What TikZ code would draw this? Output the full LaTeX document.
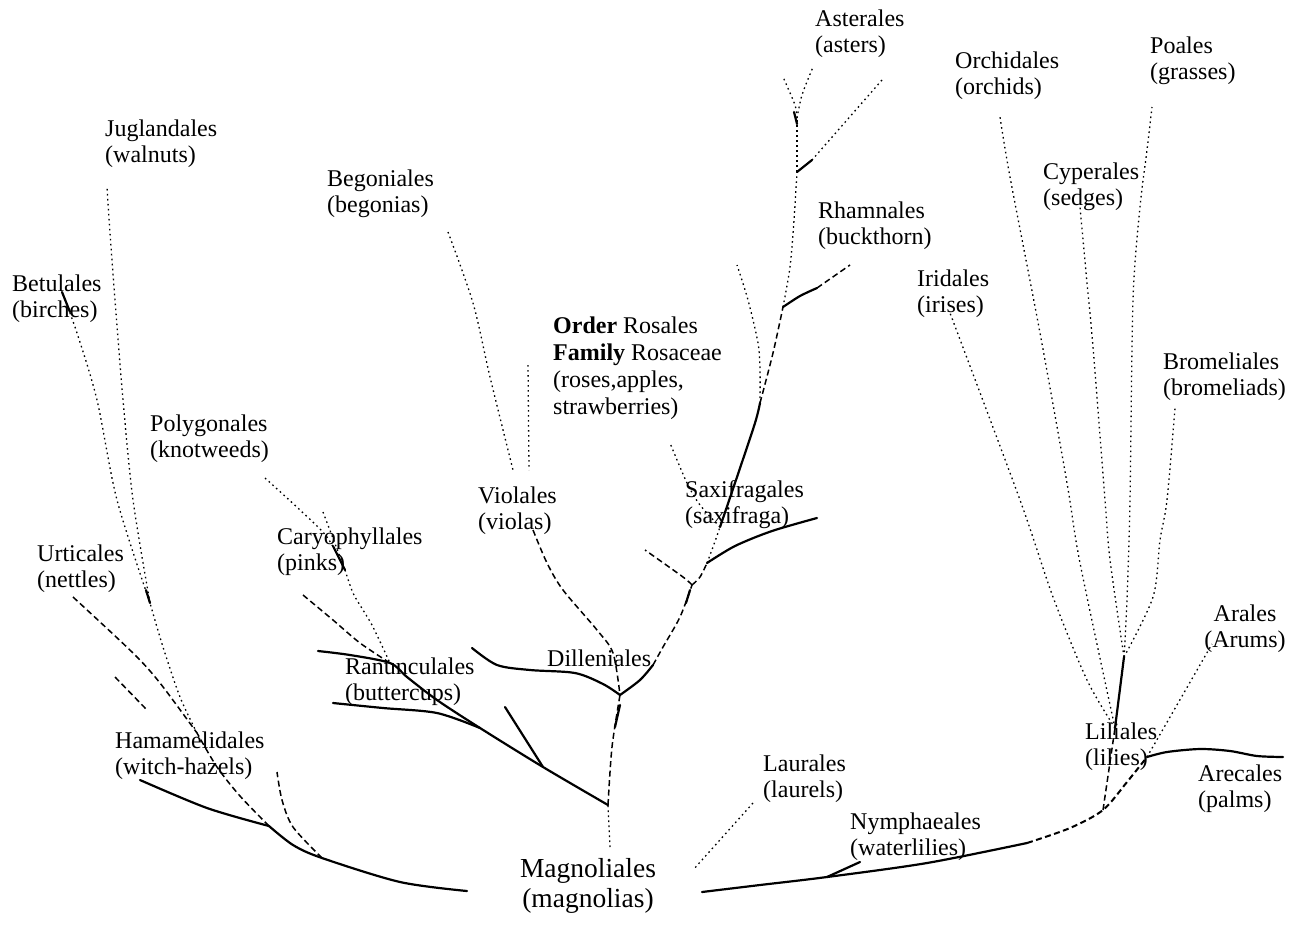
\documentclass[tikz,border=0pt]{standalone}
\usepackage{fontspec}
\setmainfont{Liberation Serif}
\begin{document}
\begin{tikzpicture}[x=1pt,y=-1pt,
  solidbr/.style={line width=2.2pt, line cap=round, line join=round},
  dashbr/.style={line width=1.5pt, dash pattern=on 6pt off 3.5pt},
  dotbr/.style={line width=1.3pt, dash pattern=on 1.6pt off 3.4pt},
  lbl/.style={font=\fontsize{24}{26}\selectfont, inner sep=0pt, align=left, anchor=north west}]
\useasboundingbox (0,0) rectangle (1300,930);

% ---------- labels ----------
\node[lbl] (jug) at (105,120) {Juglandales\\(walnuts)};
\node[lbl] (bet) at (12,275) {Betulales\\(birches)};
\node[lbl] (urt) at (37,545) {Urticales\\(nettles)};
\node[lbl] (ham) at (115,732) {Hamamelidales\\(witch-hazels)};
\node[lbl] (pol) at (150,415) {Polygonales\\(knotweeds)};
\node[lbl] (cary) at (277,528) {Caryophyllales\\(pinks)};
\node[lbl] (beg) at (327,170) {Begoniales\\(begonias)};
\node[lbl] (vio) at (478,487) {Violales\\(violas)};
\node[lbl] (ran) at (345,658) {Ranunculales\\(buttercups)};
\node[lbl] (dil) at (547,650) {Dilleniales};
\node[lbl, font=\fontsize{24}{27}\selectfont] (ros) at (553,317) {\textbf{Order} Rosales\\\textbf{Family} Rosaceae\\(roses,apples,\\strawberries)};
\node[lbl] (sax) at (685,480) {Saxifragales\\(saxifraga)};
\node[lbl] (ast) at (815,10) {Asterales\\(asters)};
\node[lbl] (rha) at (818,202) {Rhamnales\\(buckthorn)};
\node[lbl] (orc) at (955,52) {Orchidales\\(orchids)};
\node[lbl] (poa) at (1150,37) {Poales\\(grasses)};
\node[lbl] (cyp) at (1043,163) {Cyperales\\(sedges)};
\node[lbl] (iri) at (917,270) {Iridales\\(irises)};
\node[lbl] (bro) at (1163,353) {Bromeliales\\(bromeliads)};
\node[lbl, align=center, anchor=north] (ara) at (1245,605) {Arales\\(Arums)};
\node[lbl] (lil) at (1085,723) {Liliales\\(lilies)};
\node[lbl] (are) at (1198,765) {Arecales\\(palms)};
\node[lbl] (lau) at (763,755) {Laurales\\(laurels)};
\node[lbl] (nym) at (850,813) {Nymphaeales\\(waterlilies)};
\node[lbl, font=\fontsize{27.5}{30}\selectfont, align=center, anchor=north] (mag) at (588,858) {Magnoliales\\(magnolias)};

% ---------- junctions and free ends ----------
\coordinate (lA) at (467,891);
\coordinate (J1) at (322,858);
\coordinate (J2) at (269,826);
\coordinate (hamE) at (140,780);
\coordinate (e1) at (277,772);
\coordinate (J4) at (197,733);
\coordinate (J3) at (150,603);
\coordinate (jugE) at (107,187);
\coordinate (betE) at (62,292);
\coordinate (urtE) at (73,597);
\coordinate (stubA) at (115,677);
\coordinate (stubB) at (147,710);

\coordinate (T0) at (610,847);
\coordinate (T1) at (608,805);
\coordinate (T2) at (620,695);
\coordinate (R1) at (543,767);
\coordinate (R2) at (480,728);
\coordinate (R3) at (390,663);
\coordinate (ranTopE) at (318,651);
\coordinate (ranBotE) at (333,703);
\coordinate (strokeE) at (505,707);
\coordinate (dashE) at (303,595);
\coordinate (C1) at (345,570);
\coordinate (polE) at (265,478);
\coordinate (caryE) at (323,512);
\coordinate (begE) at (448,232);
\coordinate (begF) at (513,470);
\coordinate (vioT) at (528,365);
\coordinate (vioB) at (529,470);
\coordinate (vioE) at (533,530);
\coordinate (dilE) at (472,648);
\coordinate (T2b) at (653,665);
\coordinate (T3) at (692,585);
\coordinate (vE) at (645,550);
\coordinate (T4) at (707,563);
\coordinate (saxE) at (817,518);
\coordinate (T5) at (720,527);
\coordinate (rosE) at (670,443);
\coordinate (T6) at (760,403);
\coordinate (leftE) at (737,265);
\coordinate (T7) at (783,307);
\coordinate (T7b) at (817,288);
\coordinate (rhaE) at (850,265);
\coordinate (T8) at (797,172);
\coordinate (T8b) at (812,160);
\coordinate (rbE) at (882,80);
\coordinate (T9) at (797,118);
\coordinate (astL) at (783,77);
\coordinate (astR) at (813,67);

\coordinate (rA) at (702,892);
\coordinate (N1) at (827,877);
\coordinate (nymE) at (860,862);
\coordinate (R4) at (1027,843);
\coordinate (L0) at (1103,810);
\coordinate (L1) at (1147,757);
\coordinate (areE) at (1283,757);
\coordinate (araE) at (1212,644);
\coordinate (lauA) at (753,803);
\coordinate (lauB) at (693,870);
\coordinate (L3) at (1115,728);
\coordinate (L2) at (1124,657);
\coordinate (poaE) at (1152,107);
\coordinate (cypE) at (1080,207);
\coordinate (broE) at (1175,408);
\coordinate (orcE) at (1000,117);
\coordinate (iriE) at (950,313);

% ---------- left group ----------
\draw[solidbr] plot[smooth] coordinates {(lA) (400,882) (J1) (293,845) (J2)};
\draw[solidbr] plot[smooth] coordinates {(J2) (207,808) (hamE)};
\draw[dashbr] plot[smooth] coordinates {(J1) (293,827) (282,800) (e1)};
\draw[dashbr] plot[smooth] coordinates {(J2) (240,796) (217,767) (J4)};
\draw[dotbr] plot[smooth] coordinates {(J4) (180,697) (163,647) (J3)};
\draw[dotbr] plot[smooth] coordinates {(J3) (133,500) (123,400) (115,300) (110,233) (jugE)};
\draw[dotbr] plot[smooth] coordinates {(J3) (117,500) (97,400) (77,333) (betE)};
\draw[solidbr] (betE) -- (70,312);
\draw[solidbr] (146,590) -- (J3);
\draw[dashbr] plot[smooth] coordinates {(urtE) (133,653) (160,683) (J4)};
\draw[dashbr] (stubA) -- (stubB);

% ---------- central group ----------
\draw[dotbr] (T0) -- (T1);
\draw[dashbr] plot[smooth] coordinates {(T1) (612,747) (T2)};
\draw[solidbr] (615,727) -- (620,705);
\draw[solidbr] plot[smooth] coordinates {(T1) (R1) (R2) (437,700) (407,677) (R3) (350,655) (ranTopE)};
\draw[solidbr] plot[smooth] coordinates {(R2) (437,713) (383,708) (ranBotE)};
\draw[solidbr] (strokeE) -- (R1);
\draw[dashbr] plot[smooth] coordinates {(dashE) (333,620) (360,643) (R3)};
\draw[dotbr] plot[smooth] coordinates {(C1) (353,593) (363,610) (373,627) (R3)};
\draw[dotbr] plot[smooth] coordinates {(polE) (300,510) (327,537) (C1)};
\draw[solidbr] (333,546) -- (C1);
\draw[dotbr] (caryE) -- (C1);
\draw[dotbr] plot[smooth] coordinates {(begE) (473,303) (490,377) (begF)};
\draw[dotbr] (vioT) -- (vioB);
\draw[dashbr] plot[smooth] coordinates {(vioE) (547,563) (563,590) (597,630) (613,653) (T2)};
\draw[solidbr] plot[smooth] coordinates {(T2) (603,684) (575,673) (530,670) (497,665) (dilE)};
\draw[solidbr] plot[smooth] coordinates {(T2) (640,680) (T2b)};
\draw[dashbr] plot[smooth] coordinates {(T2b) (663,647) (680,617) (T3)};
\draw[solidbr] (686,603) -- (690,590);
\draw[dashbr] plot[smooth] coordinates {(T3) (683,577) (vE)};
\draw[dashbr] plot[smooth] coordinates {(T3) (700,577) (T4)};
\draw[solidbr] plot[smooth] coordinates {(T4) (735,546) (772,531) (saxE)};
\draw[dotbr] plot[smooth] coordinates {(T4) (713,547) (T5)};
\draw[dotbr] plot[smooth] coordinates {(T5) (700,505) (687,483) (rosE)};
\draw[solidbr] plot[smooth] coordinates {(T5) (737,477) (755,423) (T6)};
\draw[dotbr] plot[smooth] coordinates {(T6) (760,370) (758,343) (748,300) (leftE)};
\draw[dashbr] plot[smooth] coordinates {(T6) (773,353) (T7)};
\draw[solidbr] plot[smooth] coordinates {(T7) (800,296) (T7b)};
\draw[dashbr] (T7b) -- (rhaE);
\draw[dotbr] plot[smooth] coordinates {(T7) (790,267) (794,220) (T8)};
\draw[dotbr] (rbE) -- (T8b);
\draw[solidbr] (T8b) -- (T8);
\draw[dotbr] (T8) -- (T9);
\draw[solidbr] (794,112) -- (797,124);
\draw[dotbr] plot[smooth] coordinates {(T9) (795,105) (astL)};
\draw[dotbr] plot[smooth] coordinates {(T9) (802,95) (astR)};

% ---------- right group ----------
\draw[solidbr] plot[smooth] coordinates {(rA) (760,885) (N1) (927,863) (R4)};
\draw[dashbr, line width=2pt] plot[smooth] coordinates {(R4) (1070,828) (L0) (1127,782) (L1)};
\draw[solidbr] (N1) -- (nymE);
\draw[dotbr] (lauA) -- (lauB);
\draw[solidbr] plot[smooth] coordinates {(L1) (1167,752) (1200,749) (1230,751) (1257,756) (areE)};
\draw[dotbr] (L1) -- (araE);
\draw[dashbr] (L0) -- (L3);
\draw[solidbr] (L3) -- (L2);
\draw[dotbr] plot[smooth] coordinates {(L2) (1127,600) (1130,500) (1133,300) (1140,207) (1147,150) (poaE)};
\draw[dotbr] plot[smooth] coordinates {(L2) (1110,560) (1105,500) (1093,347) (1087,283) (cypE)};
\draw[dotbr] plot[smooth] coordinates {(L2) (1153,597) (1160,540) (1167,500) (broE)};
\draw[dotbr] plot[smooth] coordinates {(L3) (1080,563) (1067,483) (1040,333) (1010,177) (orcE)};
\draw[dotbr] plot[smooth] coordinates {(L3) (1087,680) (1053,597) (1020,500) (iriE)};
\end{tikzpicture}
\end{document}
